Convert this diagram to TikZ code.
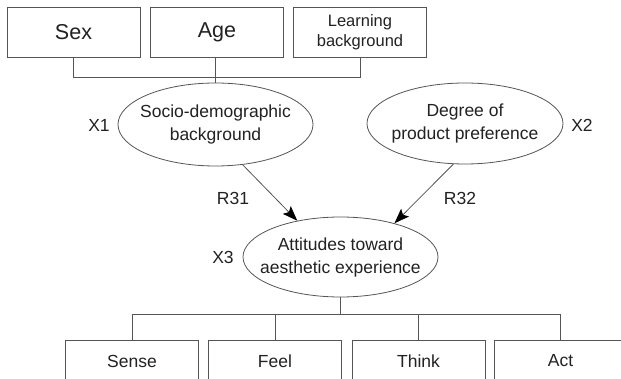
\documentclass[tikz,border=0pt]{standalone}
\usepackage{fontspec}
\setmainfont{Liberation Sans}
\usetikzlibrary{shapes.geometric,arrows.meta}
\definecolor{linec}{HTML}{555555}
\definecolor{textc}{HTML}{222222}
\newcommand{\ovaltext}[2]{\makebox[0pt]{\fontsize{17.5}{23}\selectfont\begin{tabular}{@{}c@{}}#1\\#2\end{tabular}}}
\begin{document}
\begin{tikzpicture}[x=1pt,y=-1pt,
  every node/.style={text=textc},
  ln/.style={draw=linec,line width=0.8pt},
  bigbox/.style={ln,rectangle,minimum width=133pt,minimum height=50pt,inner sep=0pt,align=center},
  lowbox/.style={ln,rectangle,minimum width=133pt,minimum height=42pt,inner sep=0pt,font=\fontsize{17.5}{21}\selectfont},
  oval/.style={ln,ellipse,inner sep=0pt},
  lab/.style={font=\fontsize{17.5}{21}\selectfont},
  arr/.style={draw=linec,line width=0.8pt,-{Stealth[length=15pt,width=11pt,inset=3pt,color=black]}}]
\useasboundingbox (0,0) rectangle (621,379);
\fill[white] (0,0) rectangle (621,379);
% top boxes
\node[bigbox,font=\fontsize{21.5}{24}\selectfont] (sex) at (73.5,32) {Sex};
\node[bigbox,font=\fontsize{21.5}{24}\selectfont] (age) at (217,32) {Age};
\node[bigbox,font=\fontsize{16.5}{20}\selectfont] (learn) at (360,32) {Learning\\background};
% ellipses
\node[oval,minimum width=195pt,minimum height=83pt] (ell1) at (215.5,124.5) {\ovaltext{Socio-demographic}{background}};
\node[oval,minimum width=196pt,minimum height=81pt] (ell2) at (465,123.5) {\ovaltext{Degree of}{product preference}};
\node[oval,minimum width=195pt,minimum height=80pt] (ell3) at (340.5,257) {\ovaltext{Attitudes toward}{aesthetic experience}};
% labels
\node[lab] (x1) at (99,125) {X1};
\node[lab] (x2) at (582,125) {X2};
\node[lab] (x3) at (223,257) {X3};
\node[lab] (r31) at (233,198) {R31};
\node[lab] (r32) at (460,198) {R32};
% bottom boxes
\node[lowbox] (sense) at (132,361) {Sense};
\node[lowbox] (feel) at (275,361) {Feel};
\node[lowbox] (think) at (418.5,361) {Think};
\node[lowbox] (act) at (560.5,361) {Act};
% top connectors
\draw[ln] (sex.south) -- ++(0,20) coordinate (tb) -| (learn.south);
\draw[ln] (ell1.north) -- (ell1.north |- age.south);
% arrows
\draw[arr] (ell1.-56) -- (ell3.140);
\draw[arr] (ell2.-106) -- (ell3.32);
% bottom connectors
\draw[ln] (ell3.south) -- ++(0,17) coordinate (bb);
\draw[ln] (sense.north) -- (sense.north |- bb) -- (act.north |- bb) -- (act.north);
\draw[ln] (feel.north) -- (feel.north |- bb);
\draw[ln] (think.north) -- (think.north |- bb);
\end{tikzpicture}
\end{document}
